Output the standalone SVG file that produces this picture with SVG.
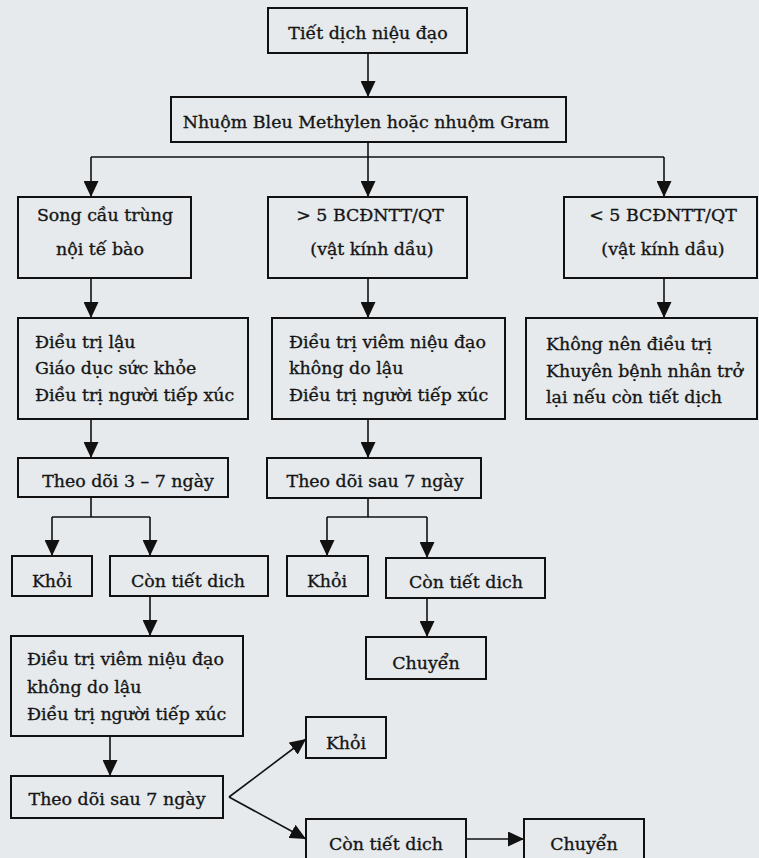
<svg xmlns="http://www.w3.org/2000/svg" width="759" height="858" viewBox="0 0 759 858">
<defs>
<style>
.bg{fill:#e6eaed}
.box{fill:none;stroke:#111;stroke-width:2}
.t{font-family:"DejaVu Serif","Liberation Serif",serif;font-size:17.4px;fill:#151515;stroke:#151515;stroke-width:0.35}
.c{text-anchor:middle}
.ln{fill:none;stroke:#111;stroke-width:1.6}
.ar{fill:none;stroke:#111;stroke-width:1.6;marker-end:url(#ah)}
</style>
<marker id="ah" viewBox="0 0 16 15" refX="16" refY="7.5" markerWidth="16" markerHeight="15" orient="auto" markerUnits="userSpaceOnUse">
<path d="M0,0 L16,7.5 L0,15 z" fill="#111"/>
</marker>
</defs>
<rect class="bg" x="0" y="0" width="759" height="858"/>

<g id="connectors">
<path class="ar" d="M368,53 V97"/>
<path class="ln" d="M91,157 H664"/>
<path class="ar" d="M368,142 V197"/>
<path class="ar" d="M91,157 V197"/>
<path class="ar" d="M664,157 V197"/>
<path class="ar" d="M91,278 V318"/>
<path class="ar" d="M368,278 V318"/>
<path class="ar" d="M664,278 V318"/>
<path class="ar" d="M91,419 V458"/>
<path class="ar" d="M368,419 V458"/>
<path class="ln" d="M91,497 V517 M52,517 H150"/>
<path class="ar" d="M52,517 V556"/>
<path class="ar" d="M150,517 V556"/>
<path class="ln" d="M368,498 V517 M327,517 H427"/>
<path class="ar" d="M327,517 V556"/>
<path class="ar" d="M427,517 V558"/>
<path class="ar" d="M150,596 V636"/>
<path class="ar" d="M427,598 V637"/>
<path class="ar" d="M110,736 V776"/>
<path class="ar" d="M229,797 L306,739"/>
<path class="ar" d="M229,797 L306,839"/>
<path class="ar" d="M466,839 H524"/>
</g>

<g id="n1"><rect class="box" x="268" y="8" width="199" height="45"/><text class="t c" x="368" y="39">Tiết dịch niệu đạo</text></g>
<g id="n2"><rect class="box" x="171" y="97" width="395" height="45"/><text class="t c" x="366" y="128">Nhuộm Bleu Methylen hoặc nhuộm Gram</text></g>

<g id="n3a"><rect class="box" x="18" y="197" width="173" height="81"/><text class="t c" x="105" y="221">Song cầu trùng</text><text class="t c" x="100" y="255">nội tế bào</text></g>
<g id="n3b"><rect class="box" x="268" y="197" width="199" height="81"/><text class="t c" x="370" y="221">&gt; 5 BCĐNTT/QT</text><text class="t c" x="372" y="255">(vật kính dầu)</text></g>
<g id="n3c"><rect class="box" x="564" y="197" width="193" height="81"/><text class="t c" x="663" y="221">&lt; 5 BCĐNTT/QT</text><text class="t c" x="663" y="255">(vật kính dầu)</text></g>

<g id="n4a"><rect class="box" x="18" y="318" width="230" height="101"/><text class="t" x="35" y="348">Điều trị lậu</text><text class="t" x="35" y="374">Giáo dục sức khỏe</text><text class="t" x="35" y="401">Điều trị người tiếp xúc</text></g>
<g id="n4b"><rect class="box" x="272" y="318" width="233" height="101"/><text class="t" x="289" y="348">Điều trị viêm niệu đạo</text><text class="t" x="289" y="374">không do lậu</text><text class="t" x="289" y="401">Điều trị người tiếp xúc</text></g>
<g id="n4c"><rect class="box" x="526" y="318" width="231" height="101"/><text class="t" x="546" y="350">Không nên điều trị</text><text class="t" x="546" y="377">Khuyên bệnh nhân trở</text><text class="t" x="546" y="403">lại nếu còn tiết dịch</text></g>

<g id="n5a"><rect class="box" x="18" y="458" width="210" height="39"/><text class="t c" x="128" y="487">Theo dõi 3 – 7 ngày</text></g>
<g id="n5b"><rect class="box" x="267" y="458" width="214" height="40"/><text class="t c" x="375" y="487">Theo dõi sau 7 ngày</text></g>

<g id="n6a"><rect class="box" x="12" y="556" width="80" height="40"/><text class="t c" x="52" y="587">Khỏi</text></g>
<g id="n6b"><rect class="box" x="110" y="556" width="158" height="40"/><text class="t c" x="188" y="587">Còn tiết dich</text></g>
<g id="n6c"><rect class="box" x="287" y="556" width="81" height="40"/><text class="t c" x="327" y="587">Khỏi</text></g>
<g id="n6d"><rect class="box" x="386" y="558" width="159" height="40"/><text class="t c" x="466" y="588">Còn tiết dich</text></g>

<g id="n7a"><rect class="box" x="11" y="636" width="232" height="100"/><text class="t" x="27" y="665">Điều trị viêm niệu đạo</text><text class="t" x="27" y="693">không do lậu</text><text class="t" x="27" y="720">Điều trị người tiếp xúc</text></g>
<g id="n7b"><rect class="box" x="366" y="637" width="120" height="42"/><text class="t c" x="426" y="669">Chuyển</text></g>

<g id="n8a"><rect class="box" x="11" y="776" width="212" height="42"/><text class="t c" x="117" y="805">Theo dõi sau 7 ngày</text></g>
<g id="n9a"><rect class="box" x="306" y="717" width="80" height="41"/><text class="t c" x="346" y="749">Khỏi</text></g>
<g id="n9b"><rect class="box" x="306" y="819" width="160" height="45"/><text class="t c" x="386" y="850">Còn tiết dich</text></g>
<g id="n9c"><rect class="box" x="524" y="819" width="120" height="45"/><text class="t c" x="584" y="850">Chuyển</text></g>
</svg>
